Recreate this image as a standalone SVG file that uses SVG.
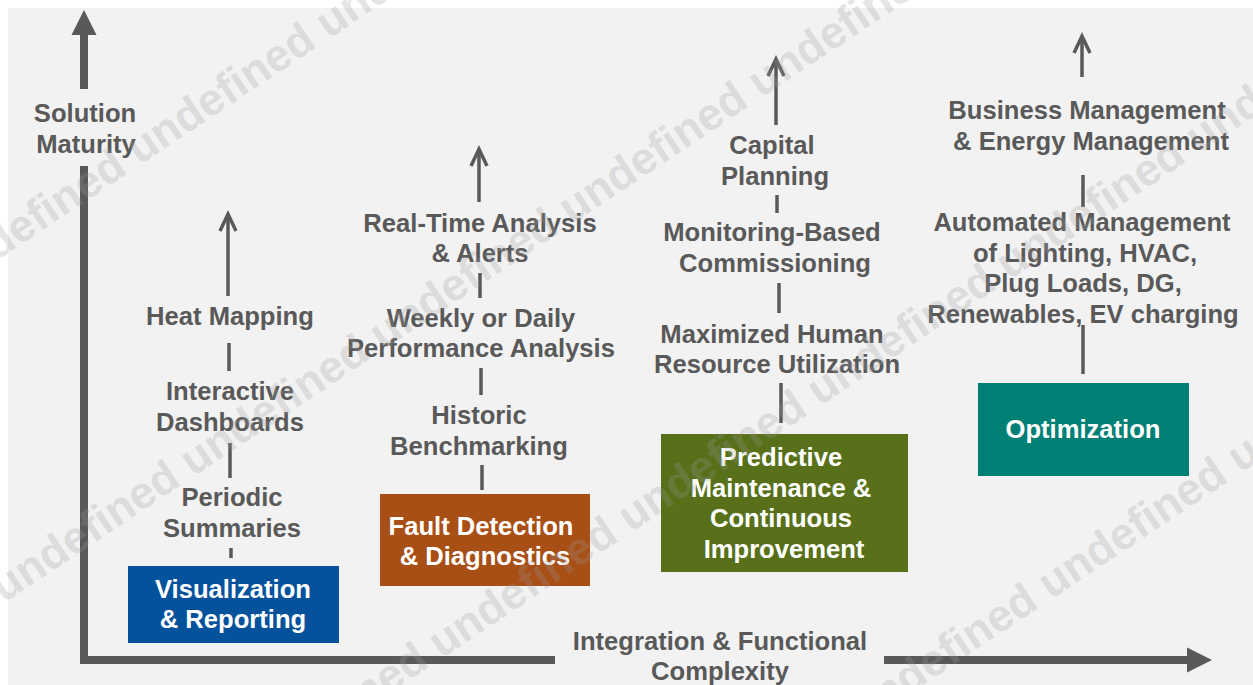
<svg xmlns="http://www.w3.org/2000/svg" width="1253" height="685" viewBox="0 0 1253 685">
<style>
.t{font-family:"Liberation Sans",Arial,sans-serif;font-weight:bold;font-size:25.6px;fill:#595959;text-anchor:middle}
.w{fill:#ffffff}
.c{stroke:#595959;stroke-width:3.5;fill:none}
.ax{fill:#595959}
.wm{font-family:"Liberation Sans",Arial,sans-serif;font-weight:bold;font-size:45px;fill:#9a9a9a;fill-opacity:0.26}
</style>
<defs>
<marker id="ah" markerUnits="userSpaceOnUse" orient="auto" overflow="visible" markerWidth="20" markerHeight="20" refX="0" refY="0">
<path d="M-17,-8 L0,0 L-17,8" fill="none" stroke="#595959" stroke-width="3.5"/>
</marker>
</defs>
<rect x="0" y="0" width="1253" height="685" fill="#ffffff"/>
<rect x="8" y="8" width="1245" height="677" fill="#f2f2f2"/>

<g id="axes">
<rect class="ax" x="80" y="34" width="8" height="55"/>
<rect class="ax" x="80" y="166" width="8" height="498"/>
<polygon class="ax" points="84,10 96.5,35 71.5,35"/>
<rect class="ax" x="80" y="656" width="475" height="8"/>
<rect class="ax" x="884" y="656" width="305" height="8"/>
<polygon class="ax" points="1212,660 1187,647.5 1187,672.5"/>
</g>

<g id="connectors">
<line class="c" x1="228" y1="296" x2="228" y2="214" marker-end="url(#ah)"/>
<line class="c" x1="229" y1="343" x2="229" y2="371"/>
<line class="c" x1="230" y1="443" x2="230" y2="478"/>
<line class="c" x1="231" y1="548" x2="231" y2="558"/>
<line class="c" x1="479" y1="202" x2="479" y2="149" marker-end="url(#ah)"/>
<line class="c" x1="480" y1="273" x2="480" y2="298"/>
<line class="c" x1="481" y1="368" x2="481" y2="395"/>
<line class="c" x1="482" y1="465" x2="482" y2="490"/>
<line class="c" x1="776" y1="125" x2="776" y2="59" marker-end="url(#ah)"/>
<line class="c" x1="777" y1="195" x2="777" y2="213"/>
<line class="c" x1="779" y1="283" x2="779" y2="313"/>
<line class="c" x1="781" y1="383" x2="781" y2="423"/>
<line class="c" x1="1082" y1="77" x2="1082" y2="36" marker-end="url(#ah)"/>
<line class="c" x1="1083" y1="175" x2="1083" y2="207"/>
<line class="c" x1="1083" y1="325" x2="1083" y2="374"/>
</g>

<g id="axis-y-label"><text class="t" x="85" y="122">Solution</text><text class="t" x="86" y="153">Maturity</text></g>
<g id="axis-x-label"><text class="t" x="720" y="650">Integration &amp; Functional</text><text class="t" x="720" y="680">Complexity</text></g>

<g id="heat-mapping"><text class="t" x="230" y="325">Heat Mapping</text></g>
<g id="interactive-dashboards"><text class="t" x="230" y="400">Interactive</text><text class="t" x="230" y="431">Dashboards</text></g>
<g id="periodic-summaries"><text class="t" x="232" y="506">Periodic</text><text class="t" x="232" y="537">Summaries</text></g>
<g id="visualization-reporting"><rect x="128" y="566" width="211" height="77" fill="#04529c"/><text class="t w" x="233" y="598">Visualization</text><text class="t w" x="233" y="628">&amp; Reporting</text></g>

<g id="real-time"><text class="t" x="480" y="232">Real-Time Analysis</text><text class="t" x="480" y="262">&amp; Alerts</text></g>
<g id="weekly-daily"><text class="t" x="481" y="327">Weekly or Daily</text><text class="t" x="481" y="357">Performance Analysis</text></g>
<g id="historic-benchmarking"><text class="t" x="479" y="424">Historic</text><text class="t" x="479" y="455">Benchmarking</text></g>
<g id="fault-detection"><rect x="380" y="494" width="210" height="92" fill="#a84f16"/><text class="t w" x="481" y="535">Fault Detection</text><text class="t w" x="485" y="565">&amp; Diagnostics</text></g>

<g id="capital-planning"><text class="t" x="772" y="154">Capital</text><text class="t" x="775" y="185">Planning</text></g>
<g id="monitoring-commissioning"><text class="t" x="772" y="241">Monitoring-Based</text><text class="t" x="775" y="272">Commissioning</text></g>
<g id="maximized-human"><text class="t" x="772" y="343">Maximized Human</text><text class="t" x="777" y="373">Resource Utilization</text></g>
<g id="predictive-maintenance"><rect x="661" y="434" width="247" height="138" fill="#58701a"/><text class="t w" x="781" y="466">Predictive</text><text class="t w" x="781" y="497">Maintenance &amp;</text><text class="t w" x="781" y="527">Continuous</text><text class="t w" x="784" y="558">Improvement</text></g>

<g id="business-energy"><text class="t" x="1087" y="119">Business Management</text><text class="t" x="1091" y="150">&amp; Energy Management</text></g>
<g id="automated-management"><text class="t" x="1082" y="231">Automated Management</text><text class="t" x="1085" y="262">of Lighting, HVAC,</text><text class="t" x="1083" y="292">Plug Loads, DG,</text><text class="t" x="1083" y="323">Renewables, EV charging</text></g>
<g id="optimization"><rect x="978" y="383" width="211" height="93" fill="#008074"/><text class="t w" x="1083" y="438">Optimization</text></g>

<g id="watermark" transform="rotate(-33.7)">
<text class="wm" x="-431" y="215">undefined undefined undefined undefined undefined undefined</text>
<text class="wm" x="-559" y="504">undefined undefined undefined undefined undefined undefined undefined undefined</text>
<text class="wm" x="-226" y="793">undefined undefined undefined undefined undefined undefined undefined</text>
<text class="wm" x="314" y="1082">undefined undefined undefined undefined undefined</text>
</g>
</svg>
